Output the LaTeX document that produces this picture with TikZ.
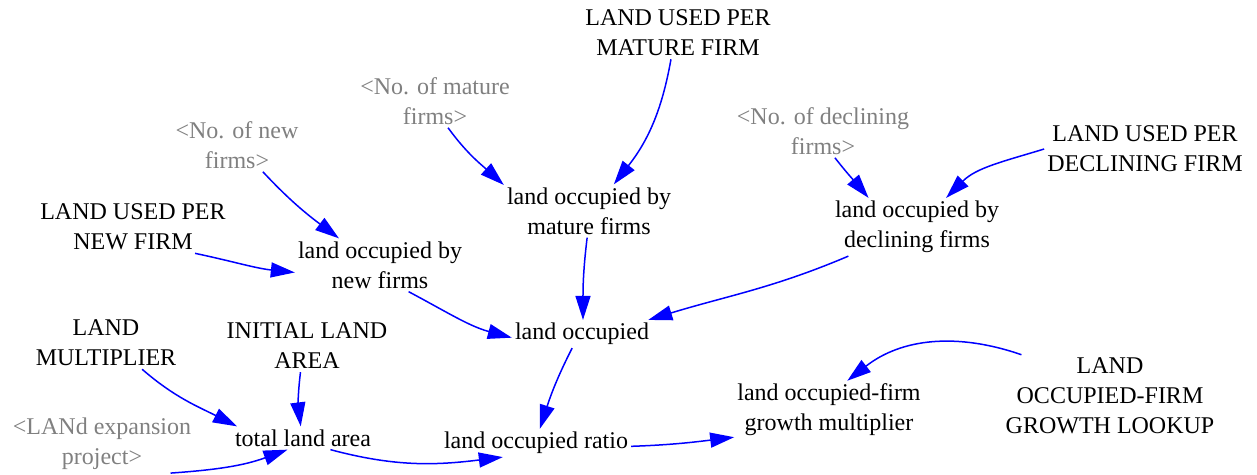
\documentclass[tikz,border=0pt]{standalone}
\usepackage{fontspec}
\setmainfont{Liberation Serif}
\usetikzlibrary{positioning,calc,arrows.meta}
\definecolor{shadow}{RGB}{128,128,128}
\tikzset{var/.style={align=center,inner sep=3pt,font=\fontsize{24}{30}\selectfont}}
\tikzset{ghost/.style={var,text=shadow}}
\tikzset{lnk/.style={draw=blue,line width=1.5pt,-{Triangle[length=24pt,width=15pt]},blue}}

\begin{document}
\begin{tikzpicture}[x=1pt,y=-1pt]
	\useasboundingbox (0,0) rectangle (1257,474);
		\node[var] (lupm) at (678,33) {LAND USED PER\\MATURE FIRM};
		\node[ghost] (nmat) at (435,101) {<No. of mature\\firms>};
		\node[ghost] (nnew) at (237,145) {<No. of new\\firms>};
		\node[ghost] (ndec) at (823,131) {<No. of declining\\firms>};
		\node[var] (lupd) at (1145,149) {LAND USED PER\\DECLINING FIRM};
		\node[var] (lomat) at (589,211) {land occupied by\\mature firms};
		\node[var] (lodec) at (917,227) {land occupied by\\declining firms};
		\node[var] (lupn) at (133,227) {LAND USED PER\\NEW FIRM};
		\node[var] (lonew) at (380,265) {land occupied by\\new firms};
		\node[var] (locc) at (582,334) {land occupied};
		\node[var] (lmult) at (106,343) {LAND\\MULTIPLIER};
		\node[var] (ila) at (307,346) {INITIAL LAND\\AREA};
		\node[var] (lookup) at (1110,396) {LAND\\OCCUPIED-FIRM\\GROWTH LOOKUP};
		\node[var] (lmultg) at (829,410) {land occupied-firm\\growth multiplier};
		\node[ghost] (lexp) at (102,444) {<LANd expansion\\project>};
		\node[var] (tla) at (303,438) {total land area};
		\node[var] (lratio) at (536,443) {land occupied ratio};

		% links
		\draw[lnk] (lupm.-105) to[out=-100,in=52] (lomat.47);
		\draw[lnk] (nmat.-64) to[out=-54,in=138] (lomat.163);
		\draw[lnk] (nnew.-46) to[out=-47,in=143] (lonew.147);
		\draw[lnk] (ndec.-66) to[out=-52,in=130] (lodec.149);
		\draw[lnk] (lupd.180) to[out=197,in=45] (lodec.45);
		\draw[lnk] (lupn.-23) to[out=-12,in=174] (lonew.-175);
		\draw[lnk] (lomat.-94) to[out=-97,in=90] (locc.86);
		\draw[lnk] (lodec.-157) to[out=203,in=17] (locc.12);
		\draw[lnk] (lonew.-43) to[out=-28,in=165] (locc.183);
		\draw[lnk] (locc.-125) to[out=243,in=72] (lratio.75);
		\draw[lnk] (lmult.-36) to[out=-41,in=153] (tla.170);
		\draw[lnk] (ila.-104) to[out=-97,in=97] (tla.101);
		\draw[lnk] (lexp.-23) to[out=4,in=200] (tla.217);
		\draw[lnk] (tla.-23) to[out=-15,in=187] (lratio.203);
		\draw[lnk] (lratio.-2) to[out=2,in=187] (lmultg.196);
		\draw[lnk] (lookup.155) to[out=161,in=38] (lmultg.58);
\end{tikzpicture}
\end{document}
